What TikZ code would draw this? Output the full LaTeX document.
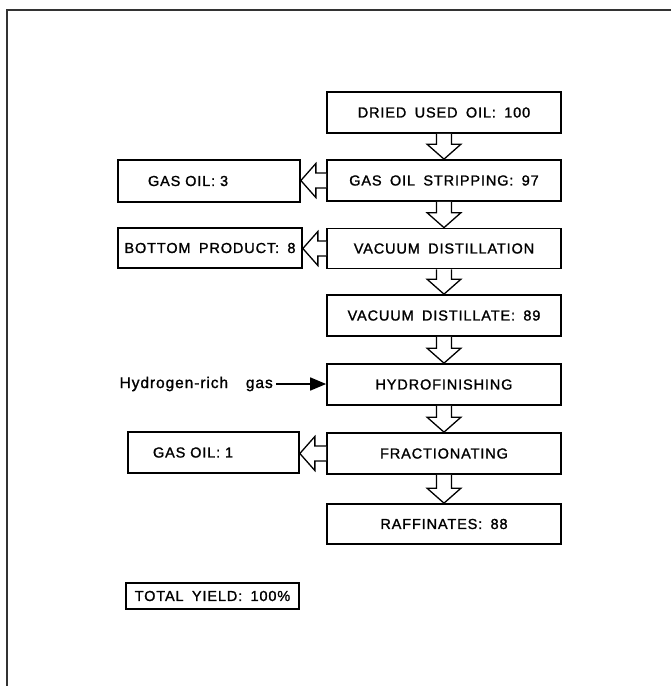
\documentclass[tikz,border=0pt]{standalone}
\usepackage{fontspec}
\setmainfont{Liberation Sans}[LetterSpace=6,WordSpace=1.7]
\newfontfamily\labelfont{Liberation Sans}[LetterSpace=6,WordSpace=1.7,FakeBold=1.3]
\usetikzlibrary{arrows.meta,calc}
\tikzset{
  box/.style={draw, line width=1.7pt, minimum width=234pt, minimum height=41pt, inner sep=0pt,
    font=\labelfont\fontsize{14.5}{17}\selectfont},
  hollow/.style={draw, line width=1.3pt, fill=white, line join=miter},
  frameline/.style={line width=1.6pt, draw=black!80},
  feed/.style={font=\labelfont\fontsize{15.5}{18}\selectfont, inner sep=3pt},
}
\newcommand\downflow[2]{%
  \draw[hollow] ($(#1.south)+(-7.5,0)$) -- ($(#2.north)+(-7.5,-15)$) -- ($(#2.north)+(-17,-15)$)
    -- (#2.north) -- ($(#2.north)+(17,-15)$) -- ($(#2.north)+(7.5,-15)$) -- ($(#1.south)+(7.5,0)$);}
\newcommand\leftflow[2]{%
  \draw[hollow] ($(#1.west)+(0,-7.5)$) -- ($(#2.east|-#1.west)+(15,-7.5)$) -- ($(#2.east|-#1.west)+(15,-17)$)
    -- (#2.east|-#1.west) -- ($(#2.east|-#1.west)+(15,17)$) -- ($(#2.east|-#1.west)+(15,7.5)$) -- ($(#1.west)+(0,7.5)$);}
\begin{document}
\begin{tikzpicture}[x=1pt,y=-1pt]
\useasboundingbox (0,0) rectangle (671,686);
\coordinate (fa) at (7,686);
\coordinate (fb) at (7,10);
\coordinate (fc) at (671,10);
\draw[frameline] (fa) -- (fb) -- (fc);

\node[box] (dried) at (444,112.5) {DRIED USED OIL: 100};
\node[box] (strip) at (444,180.5) {GAS OIL STRIPPING: 97};
\node[box, minimum height=40pt] (vac) at (444,248.5) {VACUUM DISTILLATION};
\node[box] (dist) at (444,315.5) {VACUUM DISTILLATE: 89};
\node[box] (hydro) at (444,384.5) {HYDROFINISHING};
\node[box] (frac) at (444,453.5) {FRACTIONATING};
\node[box, minimum height=40pt] (raff) at (444,524) {RAFFINATES: 88};

\node[box, minimum width=182pt, text width=122pt, align=left, inner xsep=30pt, minimum height=42pt] (go3) at (209,181) {GAS OIL: 3};
\node[box, minimum width=184pt, minimum height=40pt] (bot) at (210,248) {BOTTOM PRODUCT: 8};
\node[box, minimum width=171pt, text width=121pt, align=left, inner xsep=25pt] (go1) at (213.5,452.5) {GAS OIL: 1};
\node[box, minimum width=173pt, minimum height=26pt] (total) at (212.5,596) {TOTAL YIELD: 100\%};

\node[feed, anchor=east] (h2) at (276,384) {Hydrogen-rich\ \ gas};
\draw[line width=1.7pt, -{Triangle[length=16pt,width=13pt]}] (h2.east) -- (hydro.west|-h2.east);

\downflow{dried}{strip}
\downflow{strip}{vac}
\downflow{vac}{dist}
\downflow{dist}{hydro}
\downflow{hydro}{frac}
\downflow{frac}{raff}
\leftflow{strip}{go3}
\leftflow{vac}{bot}
\leftflow{frac}{go1}
\end{tikzpicture}
\end{document}
